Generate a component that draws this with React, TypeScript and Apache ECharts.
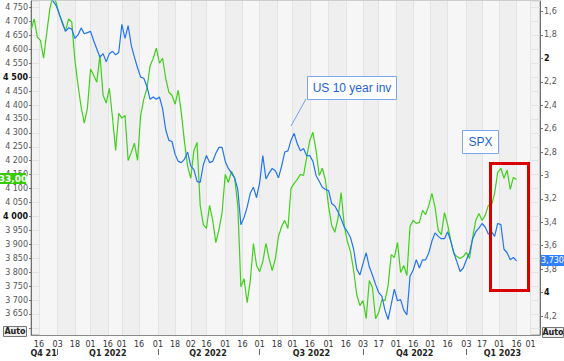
import React, { useEffect, useRef } from "react";
import * as echarts from "echarts";

// ---- data ----
const START_DATE = "2021-12-09";
const END_DATE = "2023-03-09";
const SAMPLE_STEP = 2; // weekdays between samples

// S&P 500 (left axis)
const spx = [
  4669, 4709, 4644, 4632, 4568, 4658, 4745, 4793, 4768, 4725,
  4698, 4665, 4709, 4698, 4561, 4471, 4392, 4335, 4389, 4529,
  4507, 4482, 4579, 4435, 4407, 4460, 4356, 4237, 4370, 4353,
  4363, 4201, 4230, 4263, 4201, 4363, 4421, 4460, 4540, 4568,
  4604, 4550, 4568, 4496, 4446, 4435, 4403, 4453, 4370, 4266,
  4180, 4137, 4237, 4266, 4040, 3971, 3957, 4040, 3986, 3906,
  3953, 4014, 4151, 4122, 4162, 4137, 4040, 3748, 3777, 3691,
  3770, 3903, 3824, 3802, 3838, 3903, 3849, 3806, 3849, 3928,
  3964, 3986, 3957, 4101, 4119, 4133, 4151, 4147, 4212, 4273,
  4302, 4237, 4147, 4173, 4130, 4036, 3968, 3943, 3993, 4086,
  3968, 3910, 3874, 3806, 3719, 3680, 3698, 3633, 3770, 3745,
  3633, 3655, 3701, 3698, 3752, 3863, 3853, 3906, 3799, 3824,
  3788, 3964, 3986, 3975, 3979, 4022, 4007, 4040, 4083, 4033,
  3950, 3935, 4014, 3971, 3914, 3867, 3856, 3849, 3856, 3871,
  3849, 3925, 3986, 4011, 3986, 4004, 4040, 4040, 4083, 4158,
  4173, 4137, 4166, 4097, 4140, 4133,
];

// US 10 year yield, % (right axis, inverted)
const us10y = [
  1.49, 1.44, 1.42, 1.45, 1.4, 1.47, 1.48, 1.51, 1.55, 1.62,
  1.7, 1.77, 1.74, 1.75, 1.83, 1.8, 1.74, 1.79, 1.78, 1.77,
  1.85, 1.92, 1.99, 1.96, 2.03, 1.96, 1.94, 1.97, 1.95, 1.71,
  1.83, 1.72, 1.89, 1.99, 2.08, 2.16, 2.17, 2.24, 2.35, 2.33,
  2.35, 2.33, 2.43, 2.61, 2.7, 2.71, 2.82, 2.88, 2.89, 2.86,
  2.8, 2.92, 2.95, 3.05, 3.06, 2.91, 2.83, 2.89, 2.88, 2.81,
  2.76, 2.76, 2.88, 2.94, 2.98, 3.02, 3.12, 3.42, 3.36, 3.27,
  3.15, 3.1, 3.19, 3.06, 2.83, 3.03, 2.98, 2.94, 2.96, 3.02,
  2.92, 2.8, 2.79, 2.7, 2.64, 2.73, 2.79, 2.77, 2.83, 2.83,
  2.88, 3.0, 3.05, 3.1, 3.12, 3.13, 3.24, 3.26, 3.31, 3.37,
  3.44, 3.48, 3.53, 3.63, 3.8, 3.85, 3.75, 3.66, 3.78, 3.85,
  3.93, 4.0, 4.03, 4.15, 4.23, 4.1, 3.97, 4.07, 4.06, 4.15,
  4.19, 3.86, 3.81, 3.72, 3.79, 3.72, 3.72, 3.66, 3.56, 3.49,
  3.52, 3.54, 3.54, 3.48, 3.56, 3.66, 3.74, 3.82, 3.79, 3.72,
  3.66, 3.54, 3.48, 3.45, 3.41, 3.44, 3.5, 3.48, 3.52, 3.41,
  3.42, 3.63, 3.66, 3.72, 3.7, 3.73,
];

const dayTickDates = [
  "2021-12-16", "2022-01-03", "2022-01-18", "2022-02-01", "2022-02-16",
  "2022-03-01", "2022-03-16", "2022-04-01", "2022-04-18", "2022-05-02",
  "2022-05-16", "2022-06-01", "2022-06-16", "2022-07-01", "2022-07-18",
  "2022-08-01", "2022-08-16", "2022-09-01", "2022-09-16", "2022-10-03",
  "2022-10-17", "2022-11-01", "2022-11-16", "2022-12-01", "2022-12-16",
  "2023-01-03", "2023-01-17", "2023-02-01", "2023-02-16", "2023-03-01",
];

const quarterNames = ["Q4 21", "Q1 2022", "Q2 2022", "Q3 2022", "Q4 2022", "Q1 2023"];
const quarterStarts = ["2021-12-09", "2022-01-03", "2022-04-01", "2022-07-01", "2022-10-03", "2023-01-03"];

const LEFT_MIN = 3574.6;
const LEFT_MAX = 4773.3;
const LEFT_LABEL_RANGE = [3650, 4750];
const RIGHT_MIN = 1.5104;
const RIGHT_MAX = 4.3622;

function weekdays(start: string, end: string): string[] {
  const out: string[] = [];
  const d = new Date(start + "T00:00:00Z");
  const e = new Date(end + "T00:00:00Z");
  while (d <= e) {
    const wd = d.getUTCDay();
    if (wd !== 0 && wd !== 6) out.push(d.toISOString().slice(0, 10));
    d.setUTCDate(d.getUTCDate() + 1);
  }
  return out;
}

const FONT = "'DejaVu Sans', Tahoma, sans-serif";
const AFONT = "'Liberation Sans', Arial, sans-serif";

export default function App() {
  const ref = useRef<HTMLDivElement>(null);
  useEffect(() => {
    if (!ref.current) return;
    const chart = echarts.init(ref.current, undefined, { renderer: "svg" });
    const dates = weekdays(START_DATE, END_DATE);
    const daySet = new Set(dayTickDates);
    const qStartIdx = quarterStarts.map((d) => dates.indexOf(d));
    const qLabelMap: Record<string, string> = {};
    qStartIdx.forEach((s, i) => {
      const e = i + 1 < qStartIdx.length ? qStartIdx[i + 1] : dates.length - 1;
      qLabelMap[dates[Math.floor((s + e) / 2)]] = quarterNames[i];
    });
    const sepSet = new Set(quarterStarts.slice(1));

    const spxData = spx.map((v, k) => [k * SAMPLE_STEP, v]);
    const yData = us10y.map((v, k) => [k * SAMPLE_STEP, v]);

    const dayFn = (_i: number, v: string) => daySet.has(v);

    chart.setOption({
      animation: false,
      backgroundColor: "#ffffff",
      grid: {
        left: 27,
        right: 24,
        top: 1,
        bottom: 26,
        show: true,
        backgroundColor: "#f3f3f3",
        borderColor: "#9a9a9a",
        borderWidth: 1,
      },
      xAxis: [
        {
          type: "category",
          data: dates,
          boundaryGap: false,
          axisLine: { show: true, lineStyle: { color: "#8a8a8a" } },
          axisTick: { show: false },
          axisLabel: {
            interval: dayFn,
            formatter: (v: string) => v.slice(8, 10),
            fontSize: 8,
            fontFamily: FONT,
            color: "#333",
            margin: 5,
          },
          splitLine: { show: true, interval: dayFn, lineStyle: { color: "#e3e3e3", width: 1 } },
          splitArea: { show: true, interval: dayFn, areaStyle: { color: ["#f6f6f6", "#efefef"] } },
        },
        {
          type: "category",
          data: dates,
          boundaryGap: false,
          position: "bottom",
          offset: 14,
          axisLine: { show: false },
          axisTick: {
            show: true,
            interval: (_i: number, v: string) => sepSet.has(v),
            length: 6,
            lineStyle: { color: "#666" },
          },
          axisLabel: {
            interval: (_i: number, v: string) => v in qLabelMap,
            formatter: (v: string) => qLabelMap[v] || "",
            fontSize: 8,
            fontWeight: "bold",
            fontFamily: FONT,
            color: "#222",
            margin: 0,
          },
          splitLine: { show: false },
        },
      ],
      yAxis: [
        {
          type: "value",
          position: "left",
          min: LEFT_MIN,
          max: LEFT_MAX,
          splitNumber: 24,
          minInterval: 50,
          maxInterval: 50,
          axisLine: { show: true, lineStyle: { color: "#707070" } },
          axisTick: { show: true, length: 2, lineStyle: { color: "#707070" } },
          axisLabel: {
            showMinLabel: false,
            showMaxLabel: false,
            margin: 3,
            fontSize: 8,
            fontFamily: FONT,
            color: "#555",
            formatter: (v: number) => {
              const r = Math.round(v);
              if (r < LEFT_LABEL_RANGE[0] || r > LEFT_LABEL_RANGE[1]) return "";
              const s = String(r).replace(/\B(?=(\d{3})+(?!\d))/g, " ");
              return r % 500 === 0 ? "{b|" + s + "}" : s;
            },
            rich: { b: { fontWeight: "bold", color: "#111", fontSize: 8, fontFamily: FONT } },
          },
          splitLine: { show: true, lineStyle: { color: "#e3e3e3" } },
        },
        {
          type: "value",
          position: "right",
          inverse: true,
          min: RIGHT_MIN,
          max: RIGHT_MAX,
          splitNumber: 14,
          minInterval: 0.2,
          maxInterval: 0.2,
          axisLine: { show: true, lineStyle: { color: "#707070" } },
          axisTick: { show: true, length: 3, lineStyle: { color: "#707070" } },
          axisLabel: {
            showMinLabel: false,
            showMaxLabel: false,
            margin: 4,
            fontSize: 8,
            fontFamily: FONT,
            color: "#555",
            formatter: (v: number) => {
              const r = Math.round(v * 10) / 10;
              const s = Number.isInteger(r) ? String(r) : r.toFixed(1).replace(".", ",");
              return r === 2 || r === 4 ? "{b|" + s + "}" : s;
            },
            rich: { b: { fontWeight: "bold", color: "#111", fontSize: 8, fontFamily: FONT } },
          },
          splitLine: { show: false },
        },
      ],
      series: [
        {
          name: "SPX",
          type: "line",
          xAxisIndex: 0,
          yAxisIndex: 0,
          data: spxData,
          showSymbol: false,
          symbol: "none",
          lineStyle: { color: "#3fd01c", width: 1.2 },
          itemStyle: { color: "#3fd01c" },
          z: 3,
        },
        {
          name: "US 10 year inv",
          type: "line",
          xAxisIndex: 0,
          yAxisIndex: 1,
          data: yData,
          showSymbol: false,
          symbol: "none",
          lineStyle: { color: "#2274f5", width: 1.2 },
          itemStyle: { color: "#2274f5" },
          z: 4,
        },
      ],
      graphic: [
        { type: "text", left: 427, top: 22, style: { text: "Posted on", fontSize: 10, fontFamily: AFONT, fill: "#aeb2c4" } },
        { type: "text", left: 452, top: 36, style: { text: "The Daily Shot", fontSize: 12, fontFamily: AFONT, fill: "#b6bacb" } },
        { type: "text", left: 452, top: 56, style: { text: "15-Feb-2023", fontSize: 10, fontFamily: AFONT, fill: "#b6bacb" } },
        { type: "text", left: 452, top: 83, style: { text: "@SoberLook", fontSize: 12, fontFamily: AFONT, fill: "#b6bacb" } },
        { type: "line", shape: { x1: 306, y1: 99, x2: 291, y2: 126 }, style: { stroke: "#6f9ff0", lineWidth: 1 }, z: 10 },
        { type: "rect", shape: { x: 307.5, y: 76.5, width: 89, height: 23 }, style: { fill: "#ffffff", stroke: "#7fa6ec", lineWidth: 1 }, z: 10 },
        { type: "text", x: 352, y: 88, style: { text: "US 10 year inv", fontSize: 12, fontFamily: AFONT, fill: "#1f5fd6", align: "center", verticalAlign: "middle" }, z: 11 },
        { type: "rect", shape: { x: 462.5, y: 130.5, width: 36, height: 23 }, style: { fill: "#ffffff", stroke: "#7fa6ec", lineWidth: 1 }, z: 10 },
        { type: "text", x: 480.5, y: 142, style: { text: "SPX", fontSize: 12, fontFamily: AFONT, fill: "#1f5fd6", align: "center", verticalAlign: "middle" }, z: 11 },
        { type: "rect", shape: { x: 490.5, y: 163.5, width: 38, height: 127 }, style: { fill: "none", stroke: "#d80000", lineWidth: 3 }, z: 12 },
        { type: "rect", shape: { x: 0, y: 173, width: 26, height: 11 }, style: { fill: "#33cc00" }, z: 12 },
        { type: "text", x: 13, y: 178.5, style: { text: "33,00", fontSize: 9, fontWeight: "bold", fontFamily: FONT, fill: "#ffffff", align: "center", verticalAlign: "middle" }, z: 13 },
        { type: "rect", shape: { x: 541, y: 255, width: 23, height: 11 }, style: { fill: "#2f7fff" }, z: 12 },
        { type: "text", x: 552.5, y: 260.5, style: { text: "3,730", fontSize: 8, fontFamily: FONT, fill: "#ffffff", align: "center", verticalAlign: "middle" }, z: 13 },
        { type: "rect", shape: { x: 3.5, y: 326.5, width: 23, height: 10 }, style: { fill: "#eeeeee", stroke: "#777", lineWidth: 1 }, z: 12 },
        { type: "text", x: 15, y: 331.5, style: { text: "Auto", fontSize: 8, fontWeight: "bold", fontFamily: FONT, fill: "#222", align: "center", verticalAlign: "middle" }, z: 13 },
        { type: "rect", shape: { x: 542.5, y: 327.5, width: 21, height: 10 }, style: { fill: "#eeeeee", stroke: "#777", lineWidth: 1 }, z: 12 },
        { type: "text", x: 553, y: 332.5, style: { text: "Auto", fontSize: 8, fontWeight: "bold", fontFamily: FONT, fill: "#222", align: "center", verticalAlign: "middle" }, z: 13 },
      ],
    });
    return () => chart.dispose();
  }, []);
  return (
    <div
      ref={ref}
      style={{ position: "fixed", left: 0, top: 0, width: 564, height: 361 }}
    />
  );
}
